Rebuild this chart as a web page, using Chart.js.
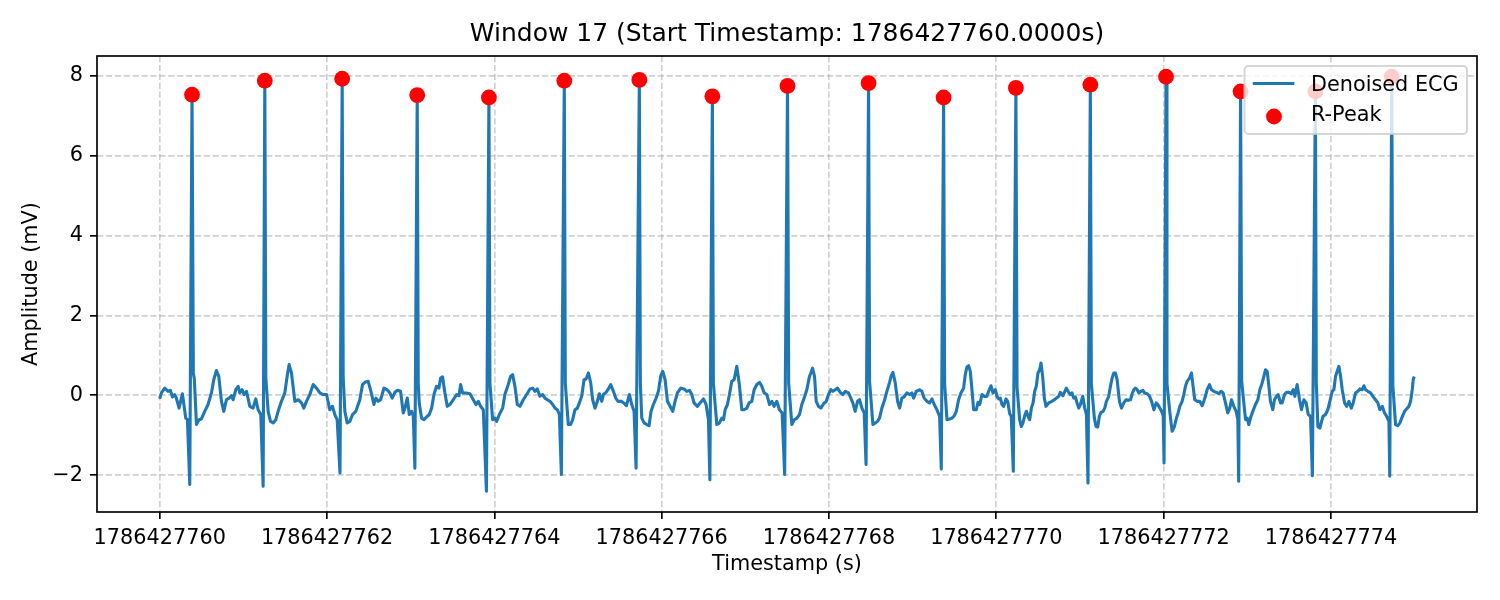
<!DOCTYPE html>
<html lang="en">
<head>
  <meta charset="UTF-8" />
  <title>Window 17 ECG</title>
  <script src="https://cdn.jsdelivr.net/npm/chart.js"></script>
  <style>
    body {
      margin: 0;
      padding: 0;
      background: #fff;
    }
    canvas {
      display: block;
    }
  </style>
</head>
<body>
  <canvas id="ecgChart" width="1500" height="600"></canvas>

  <script>
    // window start (s) and sample times measured from it
    const windowStart = 1786427760;

    const ecgTime = [
      0.000, 0.020, 0.060, 0.100, 0.128, 0.152, 0.179, 0.199, 0.231, 0.271,
      0.311, 0.331, 0.359, 0.386, 0.402, 0.414, 0.439, 0.470, 0.498, 0.538,
      0.578, 0.618, 0.646, 0.678, 0.706, 0.738, 0.766, 0.797, 0.829, 0.857,
      0.877, 0.909, 0.937, 0.957, 0.985, 1.009, 1.037, 1.077, 1.116, 1.148,
      1.176, 1.208, 1.236, 1.256, 1.268, 1.296, 1.324, 1.356, 1.388, 1.415,
      1.455, 1.495, 1.523, 1.547, 1.575, 1.615, 1.655, 1.695, 1.722, 1.754,
      1.794, 1.834, 1.874, 1.914, 1.954, 1.994, 2.033, 2.065, 2.093, 2.121,
      2.155, 2.181, 2.193, 2.213, 2.241, 2.273, 2.305, 2.344, 2.392, 2.424,
      2.452, 2.492, 2.520, 2.560, 2.584, 2.612, 2.640, 2.680, 2.719, 2.751,
      2.779, 2.811, 2.843, 2.879, 2.911, 2.931, 2.959, 2.983, 3.011, 3.031,
      3.050, 3.078, 3.090, 3.102, 3.130, 3.158, 3.190, 3.222, 3.250, 3.278,
      3.309, 3.337, 3.357, 3.381, 3.409, 3.437, 3.469, 3.509, 3.549, 3.577,
      3.597, 3.620, 3.660, 3.708, 3.748, 3.780, 3.808, 3.836, 3.868, 3.905,
      3.935, 3.947, 3.979, 4.007, 4.027, 4.059, 4.099, 4.126, 4.166, 4.194,
      4.218, 4.246, 4.274, 4.306, 4.346, 4.386, 4.426, 4.458, 4.486, 4.513,
      4.545, 4.577, 4.605, 4.633, 4.665, 4.697, 4.725, 4.753, 4.777, 4.801,
      4.836, 4.848, 4.884, 4.912, 4.936, 4.964, 4.992, 5.016, 5.044, 5.072,
      5.096, 5.124, 5.152, 5.175, 5.203, 5.231, 5.255, 5.283, 5.303, 5.335,
      5.363, 5.391, 5.423, 5.451, 5.478, 5.518, 5.546, 5.578, 5.614, 5.642,
      5.670, 5.694, 5.733, 5.745, 5.762, 5.790, 5.821, 5.849, 5.873, 5.901,
      5.933, 5.961, 5.989, 6.013, 6.041, 6.069, 6.100, 6.132, 6.160, 6.188,
      6.228, 6.268, 6.300, 6.332, 6.360, 6.387, 6.427, 6.459, 6.499, 6.531,
      6.559, 6.576, 6.606, 6.618, 6.659, 6.691, 6.719, 6.739, 6.759, 6.786,
      6.810, 6.838, 6.866, 6.898, 6.926, 6.958, 6.986, 7.018, 7.045, 7.077,
      7.105, 7.137, 7.169, 7.197, 7.225, 7.257, 7.289, 7.317, 7.344, 7.376,
      7.408, 7.440, 7.470, 7.504, 7.518, 7.556, 7.584, 7.616, 7.648, 7.675,
      7.703, 7.735, 7.767, 7.783, 7.803, 7.827, 7.847, 7.875, 7.903, 7.935,
      7.967, 7.994, 8.022, 8.046, 8.074, 8.102, 8.134, 8.166, 8.194, 8.233,
      8.261, 8.285, 8.313, 8.341, 8.365, 8.393, 8.421, 8.443, 8.473, 8.485,
      8.525, 8.553, 8.581, 8.604, 8.632, 8.660, 8.692, 8.724, 8.744, 8.764,
      8.792, 8.820, 8.844, 8.871, 8.899, 8.931, 8.963, 8.991, 9.011, 9.043,
      9.083, 9.110, 9.138, 9.170, 9.202, 9.230, 9.258, 9.290, 9.322, 9.342,
      9.370, 9.382, 9.410, 9.442, 9.470, 9.498, 9.522, 9.549, 9.577, 9.609,
      9.629, 9.649, 9.669, 9.689, 9.709, 9.729, 9.761, 9.781, 9.801, 9.829,
      9.856, 9.888, 9.908, 9.936, 9.960, 9.988, 10.008, 10.028, 10.048, 10.068,
      10.088, 10.116, 10.136, 10.160, 10.179, 10.203, 10.234, 10.248, 10.279, 10.299,
      10.319, 10.339, 10.359, 10.379, 10.399, 10.419, 10.439, 10.459, 10.478, 10.498,
      10.518, 10.534, 10.554, 10.574, 10.594, 10.626, 10.666, 10.706, 10.746, 10.765,
      10.797, 10.837, 10.865, 10.885, 10.905, 10.925, 10.945, 10.965, 10.985, 11.005,
      11.033, 11.057, 11.077, 11.096, 11.124, 11.136, 11.172, 11.192, 11.212, 11.232,
      11.252, 11.276, 11.296, 11.316, 11.344, 11.364, 11.384, 11.404, 11.424, 11.444,
      11.472, 11.496, 11.524, 11.552, 11.576, 11.604, 11.624, 11.644, 11.664, 11.684,
      11.704, 11.724, 11.752, 11.772, 11.804, 11.832, 11.856, 11.884, 11.911, 11.931,
      11.955, 11.975, 11.995, 12.005, 12.029, 12.040, 12.073, 12.101, 12.129, 12.153,
      12.173, 12.193, 12.221, 12.241, 12.261, 12.281, 12.309, 12.333, 12.352, 12.372,
      12.400, 12.432, 12.460, 12.480, 12.500, 12.520, 12.548, 12.572, 12.600, 12.632,
      12.660, 12.687, 12.711, 12.739, 12.767, 12.791, 12.811, 12.839, 12.867, 12.887,
      12.897, 12.920, 12.933, 12.979, 12.998, 13.018, 13.038, 13.066, 13.098, 13.126,
      13.150, 13.178, 13.198, 13.218, 13.238, 13.258, 13.277, 13.305, 13.325, 13.349,
      13.369, 13.397, 13.417, 13.445, 13.469, 13.497, 13.525, 13.549, 13.569, 13.596,
      13.624, 13.648, 13.676, 13.704, 13.728, 13.756, 13.778, 13.814, 13.825, 13.844,
      13.868, 13.888, 13.907, 13.935, 13.963, 13.987, 14.015, 14.035, 14.055, 14.075,
      14.095, 14.115, 14.135, 14.163, 14.187, 14.215, 14.243, 14.266, 14.294, 14.322,
      14.346, 14.374, 14.394, 14.414, 14.442, 14.474, 14.502, 14.533, 14.561, 14.585,
      14.613, 14.641, 14.665, 14.693, 14.703, 14.727, 14.740, 14.772, 14.800, 14.824,
      14.852, 14.880, 14.912, 14.932, 14.952, 14.972, 14.984, 14.996
    ];

    const ecgAmp = [
      -0.09, 0.06, 0.18, 0.10, 0.125, -0.04, 0.02, -0.07, -0.32, 0.04,
      -0.57, -0.61, -2.23, 7.52, 0.55, 0.40, -0.73, -0.61, -0.59, -0.40,
      -0.23, 0.06, 0.39, 0.62, 0.475, -0.15, -0.40, -0.11, -0.07, -0.01,
      -0.11, 0.14, 0.225, 0.06, 0.14, 0.02, 0.10, -0.275, -0.32, -0.09,
      -0.36, -0.48, -2.275, 7.87, 0.45, -0.40, -0.65, -0.69, -0.61, -0.40,
      -0.15, 0.06, 0.475, 0.77, 0.56, -0.15, -0.11, -0.19, -0.32, -0.15,
      0.02, 0.27, 0.18, 0.06, 0.02, 0.02, -0.36, -0.275, -0.48, -0.61,
      -1.94, 7.92, 0.45, -0.40, -0.69, -0.65, -0.48, -0.40, -0.11, 0.27,
      0.325, 0.35, 0.14, -0.23, -0.07, -0.15, -0.11, 0.18, 0.14, 0.06,
      -0.07, 0.075, 0.125, 0.10, -0.44, -0.32, -0.07, -0.48, -0.40, -0.525,
      -1.82, 7.51, 0.30, -0.20, -0.57, -0.61, -0.54, -0.48, -0.32, 0.02,
      0.225, 0.18, 0.43, 0.46, 0.06, -0.275, -0.23, -0.11, 0.02, -0.01,
      0.27, 0.06, 0.06, 0.04, -0.11, -0.23, -0.15, -0.275, -0.36, -2.40,
      7.45, 0.30, -0.61, -0.57, -0.65, -0.48, -0.32, 0.02, 0.27, 0.475,
      0.52, 0.225, -0.23, -0.275, -0.11, 0.02, 0.16, 0.18, 0.10, 0.16,
      -0.025, 0.02, -0.07, -0.11, -0.15, -0.23, -0.32, -0.36, -0.48, -1.98,
      7.87, 0.30, -0.73, -0.73, -0.61, -0.36, -0.32, -0.19, -0.025, 0.39,
      0.41, 0.56, 0.31, -0.11, -0.32, -0.15, 0.04, -0.15, 0.02, 0.075,
      0.16, 0.27, 0.10, -0.07, -0.15, -0.15, -0.19, -0.26, 0.02, -0.23,
      -0.40, -1.82, 7.89, 0.30, -0.57, -0.69, -0.73, -0.76, -0.40, -0.23,
      -0.07, 0.10, 0.49, 0.60, 0.39, -0.15, -0.275, -0.40, -0.15, 0.06,
      0.18, 0.16, 0.10, 0.125, 0.02, -0.19, -0.275, -0.19, -0.09, -0.23,
      -0.61, -2.11, 7.48, 0.30, -0.73, -0.69, -0.57, -0.61, -0.36, -0.23,
      0.02, 0.35, 0.39, 0.725, 0.31, -0.36, -0.36, -0.32, -0.19, -0.15,
      0.14, 0.27, 0.325, 0.225, 0.06, 0.02, -0.23, -0.15, -0.275, -0.15,
      -0.36, -0.44, -1.98, 7.74, 0.30, -0.73, -0.61, -0.57, -0.48, -0.23,
      -0.07, 0.14, 0.475, 0.56, 0.68, 0.475, -0.15, -0.275, -0.32, -0.21,
      -0.15, 0.02, 0.14, 0.10, 0.14, 0.18, 0.075, 0.02, 0.10, 0.06,
      -0.07, -0.19, -0.40, -0.15, -0.11, -0.32, -0.44, -1.73, 7.81, 0.35,
      -0.73, -0.69, -0.65, -0.57, -0.32, -0.15, 0.10, 0.325, 0.49, 0.575,
      0.31, -0.15, -0.32, -0.07, -0.04, 0.06, 0.02, 0.06, -0.07, 0.10,
      0.14, 0.10, -0.07, -0.15, -0.19, -0.09, -0.23, -0.36, -0.525, -1.84,
      7.45, 0.30, -0.61, -0.59, -0.57, -0.51, -0.40, -0.11, 0.06, 0.18,
      0.52, 0.71, 0.74, 0.60, 0.14, -0.36, -0.36, -0.175, -0.23, 0.02,
      -0.025, -0.025, 0.10, 0.24, 0.06, 0.14, -0.025, -0.09, -0.07, -0.23,
      -0.275, -0.09, -0.15, -0.46, -0.525, -1.90, 7.69, 0.20, -0.61, -0.78,
      -0.69, -0.51, -0.40, -0.525, -0.61, -0.32, -0.19, 0.10, 0.225, 0.56,
      0.64, 0.81, 0.475, -0.07, -0.275, -0.19, -0.15, -0.09, -0.025, 0.075,
      -0.01, 0.18, 0.075, 0.02, 0.06, -0.07, -0.04, -0.19, -0.32, -0.23,
      -0.025, -0.32, -0.48, -2.19, 7.77, 0.30, -0.57, -0.78, -0.79, -0.525,
      -0.425, -0.40, -0.32, -0.15, -0.025, 0.225, 0.43, 0.56, 0.56, 0.39,
      -0.15, -0.32, -0.19, -0.11, -0.125, -0.11, 0.04, 0.14, 0.18, 0.14,
      0.06, 0.10, 0.125, 0.06, 0.04, -0.025, -0.15, -0.36, -0.19, -0.23,
      -0.32, -0.40, -0.51, -1.69, 7.97, 0.30, -0.40, -0.90, -0.78, -0.57,
      -0.44, -0.275, -0.15, 0.02, 0.225, 0.35, 0.43, 0.56, 0.225, -0.11,
      -0.15, -0.15, -0.26, -0.15, -0.025, 0.14, 0.27, 0.14, 0.10, 0.075,
      0.04, 0.10, 0.06, -0.19, -0.44, -0.32, -0.11, -0.275, -0.40, -0.61,
      -2.15, 7.60, 0.35, -0.61, -0.57, -0.73, -0.57, -0.40, -0.23, -0.11,
      0.14, 0.31, 0.475, 0.64, 0.60, 0.225, -0.15, -0.36, -0.11, -0.025,
      0.02, -0.19, -0.19, 0.02, 0.075, 0.075, 0.04, 0.14, -0.025, 0.27,
      -0.11, -0.36, -0.11, -0.19, -0.48, -0.525, -2.01, 7.60, 0.30, -0.78,
      -0.82, -0.65, -0.525, -0.48, -0.36, -0.15, 0.10, 0.14, 0.475, 0.60,
      0.725, 0.475, 0.14, -0.19, -0.275, -0.15, -0.32, -0.19, 0.06, 0.10,
      0.16, 0.14, 0.24, 0.14, 0.10, 0.06, -0.025, -0.11, -0.19, -0.36,
      -0.275, -0.44, -0.525, -0.65, -2.02, 7.97, 0.25, -0.73, -0.76, -0.69,
      -0.54, -0.40, -0.32, -0.275, -0.15, 0.14, 0.40, 0.47
    ];

    // detected R-peaks
    const peakTime = [0.386, 1.256, 2.181, 3.078, 3.935, 4.836, 5.733, 6.606, 7.504,
                      8.473, 9.370, 10.234, 11.124, 12.029, 12.920, 13.814, 14.727];
    const peakAmp = [7.52, 7.87, 7.92, 7.51, 7.45, 7.87, 7.89, 7.48, 7.74,
                     7.81, 7.45, 7.69, 7.77, 7.97, 7.60, 7.60, 7.97];

    const xTicks = [1786427760, 1786427762, 1786427764, 1786427766,
                    1786427768, 1786427770, 1786427772, 1786427774];
    const yTicks = [-2, 0, 2, 4, 6, 8];

    const ecgPoints = ecgTime.map((t, i) => ({ x: windowStart + t, y: ecgAmp[i] }));
    const peakPoints = peakTime.map((t, i) => ({ x: windowStart + t, y: peakAmp[i] }));

    // matplotlib-like 5% margins
    const tMin = Math.min(...ecgTime), tMax = Math.max(...ecgTime);
    const aMin = Math.min(...ecgAmp, ...peakAmp), aMax = Math.max(...ecgAmp, ...peakAmp);
    const xPad = (tMax - tMin) * 0.05, yPad = (aMax - aMin) * 0.05;

    const font = { family: 'DejaVu Sans', size: 20.8 };
    const gridColor = 'rgba(176,176,176,0.6)';
    const minus = v => (v < 0 ? '\u2212' + Math.abs(v) : String(v));

    const frame = {
      id: 'frame',
      afterDatasetsDraw(chart) {
        const { ctx, chartArea: a } = chart;
        ctx.save();
        ctx.strokeStyle = '#000';
        ctx.lineWidth = 1.67;
        ctx.strokeRect(a.left, a.top, a.right - a.left, a.bottom - a.top);
        ctx.restore();
      }
    };

    const boxLegend = {
      id: 'boxLegend',
      afterDraw(chart) {
        const { ctx, chartArea: a } = chart;
        const line = chart.data.datasets[0];
        const peaks = chart.data.datasets[1];
        ctx.save();
        ctx.font = font.size + 'px ' + font.family;
        const textW = Math.max(ctx.measureText(line.label).width, ctx.measureText(peaks.label).width);
        const w = 8.3 + 41.6 + 16.6 + textW + 8.3;
        const h = 68;
        const right = a.right - 10;
        const left = right - w;
        const top = a.top + 10;

        ctx.beginPath();
        ctx.roundRect(left, top, w, h, 4);
        ctx.fillStyle = 'rgba(255,255,255,0.8)';
        ctx.fill();
        ctx.strokeStyle = 'rgba(204,204,204,0.8)';
        ctx.lineWidth = 2;
        ctx.stroke();

        ctx.beginPath();
        ctx.moveTo(left + 8.3, top + 17.5);
        ctx.lineTo(left + 49.9, top + 17.5);
        ctx.strokeStyle = line.borderColor;
        ctx.lineWidth = line.borderWidth;
        ctx.stroke();

        ctx.beginPath();
        ctx.arc(left + 29.5, top + 50.5, peaks.pointRadius, 0, Math.PI * 2);
        ctx.fillStyle = peaks.backgroundColor;
        ctx.fill();

        ctx.fillStyle = '#000';
        ctx.textBaseline = 'alphabetic';
        ctx.fillText(line.label, left + 66.5, top + 24.5);
        ctx.fillText(peaks.label, left + 66.5, top + 54.5);
        ctx.restore();
      }
    };

    new Chart(document.getElementById('ecgChart'), {
      type: 'scatter',
      data: {
        datasets: [
          {
            label: 'Denoised ECG',
            data: ecgPoints,
            showLine: true,
            borderColor: '#1f77b4',
            backgroundColor: '#1f77b4',
            borderWidth: 3.1,
            borderJoinStyle: 'round',
            pointRadius: 0,
            tension: 0,
            order: 2
          },
          {
            label: 'R-Peak',
            data: peakPoints,
            backgroundColor: '#ff0000',
            borderWidth: 0,
            pointRadius: 7.9,
            order: 1
          }
        ]
      },
      options: {
        responsive: false,
        animation: false,
        devicePixelRatio: 1,
        events: [],
        layout: { padding: { left: 0, right: 23, top: 0, bottom: 0 } },
        plugins: {
          legend: { display: false },
          tooltip: { enabled: false },
          title: {
            display: true,
            fullSize: false,
            text: 'Window 17 (Start Timestamp: 1786427760.0000s)',
            color: '#000',
            font: { family: 'DejaVu Sans', size: 25, weight: 'normal' },
            padding: { top: 19, bottom: 7 }
          }
        },
        scales: {
          x: {
            type: 'linear',
            min: windowStart + tMin - xPad,
            max: windowStart + tMax + xPad,
            afterBuildTicks: s => { s.ticks = xTicks.map(v => ({ value: v })); },
            afterFit: s => { s.height = 88; },
            ticks: {
              font, color: '#000', padding: 7.5, maxRotation: 0, autoSkip: false,
              callback: v => String(v)
            },
            grid: {
              color: gridColor, lineWidth: 1.67,
              tickColor: '#000', tickLength: 7, tickWidth: 1.67, tickBorderDash: []
            },
            border: { display: false, dash: [6.2, 2.7] },
            title: {
              display: true, text: 'Timestamp (s)', font, color: '#000',
              padding: { top: 0, bottom: 22.5 }
            }
          },
          y: {
            min: aMin - yPad,
            max: aMax + yPad,
            afterBuildTicks: s => { s.ticks = yTicks.map(v => ({ value: v })); },
            afterFit: s => { s.width = 97; },
            ticks: { font, color: '#000', padding: 7, callback: minus },
            grid: {
              color: gridColor, lineWidth: 1.67,
              tickColor: '#000', tickLength: 7, tickWidth: 1.67, tickBorderDash: []
            },
            border: { display: false, dash: [6.2, 2.7] },
            title: {
              display: true, text: 'Amplitude (mV)', font, color: '#000',
              padding: { top: 19, bottom: 0 }
            }
          }
        }
      },
      plugins: [frame, boxLegend]
    });
  </script>
</body>
</html>
